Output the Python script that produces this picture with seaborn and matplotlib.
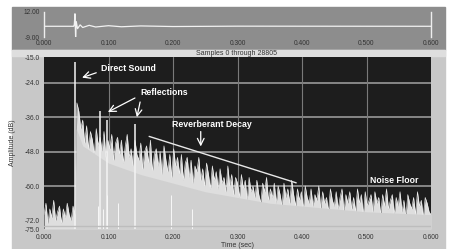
import numpy as np
import pandas as pd
import matplotlib
matplotlib.use("Agg")
import matplotlib.pyplot as plt
from matplotlib.patches import Rectangle
import seaborn as sns

# ---------------- data ----------------
# top overview waveform (linear amplitude)
top_t = [0.0, 0.046, 0.047, 0.048, 0.049, 0.050, 0.052, 0.056, 0.060, 0.070,
         0.080, 0.100, 0.120, 0.150, 0.200, 0.300, 0.600]
top_amp = [0.0, 0.0, 1.5, 10.5, -9.0, 4.0, -2.0, 1.2, -1.0, 0.8,
           -0.6, 0.5, -0.4, 0.3, -0.2, 0.1, 0.0]

# decay envelope (dB), sampled every 3 ms from t = 0
env_step = 0.003
env_db = [-70, -66, -73, -68, -71, -65, -72, -69, -67, -73,
          -68, -71, -66, -70, -72, -67, -70, -31, -34, -40,
          -37, -45, -39, -47, -41, -44, -49, -40, -46, -43,
          -48, -41, -50, -44, -47, -42, -51, -45, -43, -49,
          -44, -52, -46, -42, -50, -47, -53, -44, -49, -51,
          -45, -54, -48, -46, -52, -44, -55, -49, -47, -53,
          -48, -56, -46, -51, -55, -49, -57, -47, -53, -50,
          -56, -49, -58, -52, -50, -57, -51, -59, -53, -55,
          -50, -58, -54, -60, -52, -56, -61, -53, -58, -55,
          -61, -54, -59, -57, -62, -53, -60, -56, -63, -57,
          -59, -64, -56, -61, -58, -65, -57, -62, -60, -64,
          -58, -63, -66, -59, -62, -57, -65, -61, -64, -59,
          -66, -60, -63, -67, -59, -64, -61, -66, -58, -63,
          -67, -61, -65, -62, -68, -60, -64, -66, -61, -67,
          -63, -65, -60, -68, -62, -66, -64, -69, -61, -65,
          -67, -62, -68, -64, -61, -69, -63, -66, -62, -68,
          -64, -69, -61, -66, -63, -70, -62, -67, -65, -63,
          -69, -62, -66, -64, -70, -63, -67, -61, -68, -65,
          -63, -70, -64, -67, -62, -69, -65, -71, -63, -66,
          -68, -64, -70, -62, -67, -65, -71, -64, -66, -69,
          -70]

# dense lower body of the decay
body_t = [0.048, 0.050, 0.060, 0.080, 0.100, 0.150, 0.200, 0.250, 0.300,
          0.350, 0.400, 0.500, 0.600]
body_db = [-75, -40, -46, -49, -52, -56, -59, -62, -64, -66, -67, -69, -70]

# distinct spikes: direct sound and reflections
spike_t = [0.048, 0.087, 0.098, 0.141]
spike_db = [-16.7, -33.9, -37.0, -38.5]

# small spikes rising from the floor
low_t = [0.083, 0.092, 0.098, 0.114, 0.197, 0.230]
low_db = [-67, -68, -63, -66, -63, -68]

y_ticks = [-15, -24, -36, -48, -60, -72, -75]
x_ticks = [0.0, 0.1, 0.2, 0.3, 0.4, 0.5, 0.6]

# ---------------- figure ----------------
sns.set_theme(style="dark")
plt.rcParams['font.family'] = ['Liberation Sans', 'DejaVu Sans']

W, H = 467, 249
fig = plt.figure(figsize=(W / 100, H / 100), dpi=100)
fig.patch.set_facecolor("white")

def fx(px):
    return px / W

def fy(py):
    return (H - py) / H

# background panels
fig.patches.append(Rectangle((fx(12), fy(50)), fx(445) - fx(12), fy(7) - fy(50),
                             transform=fig.transFigure, color="#8d8d8d", zorder=-2))
fig.patches.append(Rectangle((fx(12), 0), fx(445) - fx(12), fy(50),
                             transform=fig.transFigure, color="#c8c8c8", zorder=-2))
fig.patches.append(Rectangle((fx(12), fy(56)), fx(445) - fx(12), fy(50) - fy(56),
                             transform=fig.transFigure, color="#dedede", zorder=-1))

tick_kw = dict(labelsize=4.8, colors="#333333", length=2, width=0.6, pad=1)

# ---- top overview axes ----
ax_top = fig.add_axes([fx(44), fy(37), fx(431) - fx(44), fy(12) - fy(37)])
ax_top.set_facecolor("#8d8d8d")
top_df = pd.DataFrame({"t": top_t, "amp": top_amp})
sns.lineplot(data=top_df, x="t", y="amp", ax=ax_top, color="#f2f2f2",
             linewidth=0.9, estimator=None)
ax_top.set_xlim(0, 0.6)
ax_top.set_ylim(-9, 12)
ax_top.set_xticks(x_ticks)
ax_top.set_xticklabels([f"{v:.3f}" for v in x_ticks])
ax_top.set_yticks([12, -9])
ax_top.set_yticklabels(["12.00", "-9.00"])
ax_top.tick_params(axis="both", **tick_kw)
ax_top.tick_params(axis="x", pad=0.5)
ax_top.set_xlabel("")
ax_top.set_ylabel("")
for side in ["top", "bottom"]:
    ax_top.spines[side].set_visible(False)
for side in ["left", "right"]:
    ax_top.spines[side].set_visible(True)
    ax_top.spines[side].set_color("#eeeeee")
    ax_top.spines[side].set_linewidth(1.0)
ax_top.grid(False)
fig.text(fx(237), fy(53.5), "Samples 0 through 28805", ha="center", va="center",
         fontsize=5, color="#333333")

# ---- main axes ----
ax = fig.add_axes([fx(44), fy(229), fx(431) - fx(44), fy(57) - fy(229)])
ax.set_facecolor("#1d1d1d")
ax.set_xlim(0, 0.6)
ax.set_ylim(-75, -15)

for yv in [-24, -36, -48, -60]:
    ax.axhline(yv, color="#8f8f8f", linewidth=1.3, zorder=1)
for xv in [0.1, 0.2, 0.3, 0.4, 0.5]:
    ax.axvline(xv, color="#7a7a7a", linewidth=0.8, zorder=1)

env_t = [i * env_step for i in range(len(env_db))]
env_df = pd.DataFrame({"t": env_t, "db": env_db})
ax.fill_between(env_df["t"], -75, env_df["db"], color="#dedede", linewidth=0, zorder=2)
sns.lineplot(data=env_df, x="t", y="db", ax=ax, color="#f0f0f0", linewidth=0.45,
             estimator=None, zorder=3)
body_df = pd.DataFrame({"t": body_t, "db": body_db})
ax.fill_between(body_df["t"], -75, body_df["db"], color="#d0d0d0", linewidth=0, zorder=3)
ax.vlines(spike_t, -75, spike_db, color="#f4f4f4", linewidth=1.1, zorder=4)
ax.vlines(low_t, -75, low_db, color="#f8f8f8", linewidth=0.7, zorder=4)
ax.axhline(-74, color="#bdbdbd", linewidth=1.0, zorder=4)

ax.set_xticks(x_ticks)
ax.set_xticklabels([f"{v:.3f}" for v in x_ticks])
ax.set_yticks(y_ticks)
ax.set_yticklabels([f"{v:.1f}" for v in y_ticks])
ax.tick_params(axis="both", **tick_kw)
ax.tick_params(axis="x", pad=1.5)
ax.set_xlabel("Time (sec)", fontsize=5, color="#333333", labelpad=1)
ax.set_ylabel("Amplitude (dB)", fontsize=5, color="#333333", labelpad=6)
ax.grid(False)
for s in ax.spines.values():
    s.set_visible(False)

# annotations
ann = dict(color="white", fontsize=6.3, fontweight="bold", va="center", ha="left", zorder=6)
arrow = dict(arrowstyle="->", color="white", lw=0.9, shrinkA=0, shrinkB=0)
ax.text(0.088, -19.0, "Direct Sound", **ann)
ax.annotate("", xy=(0.059, -22.2), xytext=(0.081, -20.5), arrowprops=arrow, zorder=6)
ax.text(0.150, -27.5, "Reflections", **ann)
ax.annotate("", xy=(0.099, -34.2), xytext=(0.141, -29.3), arrowprops=arrow, zorder=6)
ax.annotate("", xy=(0.144, -36.0), xytext=(0.149, -30.7), arrowprops=arrow, zorder=6)
ax.text(0.198, -38.5, "Reverberant Decay", **ann)
ax.annotate("", xy=(0.243, -46.2), xytext=(0.243, -41.0), arrowprops=arrow, zorder=6)
ax.plot([0.163, 0.391], [-42.7, -58.9], color="#e8e8e8", linewidth=1.0, zorder=6)
ax.text(0.505, -58.2, "Noise Floor", **ann)

fig.savefig("out.png", dpi=100, facecolor=fig.get_facecolor())
